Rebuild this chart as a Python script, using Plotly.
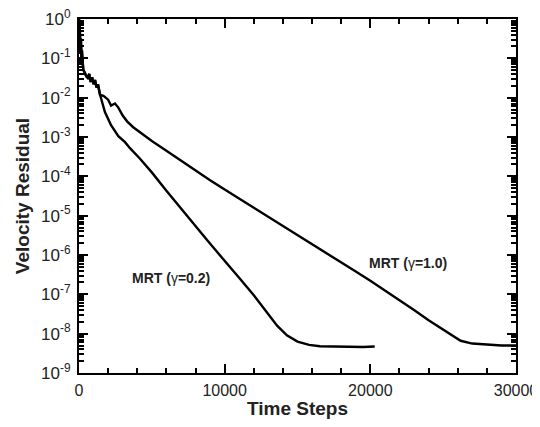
import plotly.graph_objects as go

# residual history, shared start-up transient
steps_start = [0, 60, 100, 130, 170, 200, 250, 300, 400, 500, 600, 700, 800,
               900, 1000, 1100, 1200, 1300, 1440]
res_start = [1.0, 0.5, 0.13, 0.32, 0.1, 0.16, 0.08, 0.05, 0.043, 0.035, 0.032,
             0.04, 0.025, 0.033, 0.022, 0.028, 0.018, 0.022, 0.012]

# MRT gamma = 0.2
steps_g02 = [1780, 2200, 2700, 3160, 3500, 4190, 5000, 6000, 7000, 8000, 8790,
             9500, 10300, 11050, 12000, 13000, 13600, 14270, 15000, 15800,
             16540, 17500, 18500, 19500, 20300]
res_g02 = [4.3e-3, 2.0e-3, 1.05e-3, 7.4e-4, 5.2e-4, 2.8e-4, 1.26e-4, 4.3e-5,
           1.5e-5, 5.4e-6, 2.4e-6, 1.17e-6, 5.4e-7, 2.5e-7, 9.5e-8, 3.2e-8,
           1.6e-8, 9.1e-9, 6.3e-9, 5.2e-9, 4.8e-9, 4.7e-9, 4.6e-9, 4.6e-9,
           4.7e-9]

# MRT gamma = 1.0
steps_g10 = [1700, 2000, 2200, 2470, 2700, 3000, 3300, 3700, 4200, 5000, 6000,
             7000, 8000, 9000, 10000, 11000, 12000, 13000, 14000, 15000, 16000,
             17000, 18000, 19000, 20000, 21000, 22000, 23000, 24000, 25000,
             25600, 26200, 27000, 28000, 29000, 30000]
res_g10 = [0.011, 8.9e-3, 6.3e-3, 7.1e-3, 5.6e-3, 3.5e-3, 2.5e-3, 1.8e-3,
           1.3e-3, 7.9e-4, 4.5e-4, 2.5e-4, 1.41e-4, 7.9e-5, 4.6e-5, 2.7e-5,
           1.6e-5, 9.5e-6, 5.6e-6, 3.3e-6, 1.95e-6, 1.15e-6, 6.6e-7, 3.8e-7,
           2.2e-7, 1.26e-7, 7.1e-8, 4.0e-8, 2.2e-8, 1.26e-8, 8.9e-9, 6.6e-9,
           5.6e-9, 5.2e-9, 5.0e-9, 5.0e-9]

y_tickvals = [1e0, 1e-1, 1e-2, 1e-3, 1e-4, 1e-5, 1e-6, 1e-7, 1e-8, 1e-9]
y_ticktext = ["10<sup>0</sup>", "10<sup>-1</sup>", "10<sup>-2</sup>",
              "10<sup>-3</sup>", "10<sup>-4</sup>", "10<sup>-5</sup>",
              "10<sup>-6</sup>", "10<sup>-7</sup>", "10<sup>-8</sup>",
              "10<sup>-9</sup>"]
x_tickvals = [0, 10000, 20000, 30000]
x_ticktext = ["0", "10000", "20000", "30000"]

FONT = "Liberation Sans, Arial, sans-serif"

fig = go.Figure()
fig.add_trace(go.Scatter(x=steps_start + steps_g02, y=res_start + res_g02,
                         mode="lines", line=dict(color="black", width=2.4),
                         name="MRT (γ=0.2)"))
fig.add_trace(go.Scatter(x=steps_start + steps_g10, y=res_start + res_g10,
                         mode="lines", line=dict(color="black", width=2.4),
                         name="MRT (γ=1.0)"))

fig.add_annotation(x=6300, y=-6.585, text="<b>MRT (</b>γ<b>=0.2)</b>",
                   showarrow=False, font=dict(family=FONT, size=14, color="#222"))
fig.add_annotation(x=22600, y=-6.2, text="<b>MRT (</b>γ<b>=1.0)</b>",
                   showarrow=False, font=dict(family=FONT, size=14, color="#222"))

# page body adds an 8px offset; keep the page from scrolling vertically
fig.update_layout(
    width=532, height=411,
    margin=dict(l=71, r=24, t=11, b=46),
    paper_bgcolor="white", plot_bgcolor="white",
    showlegend=False,
    font=dict(family=FONT, color="#222"),
    xaxis=dict(
        range=[0, 30000], tickvals=x_tickvals, ticktext=x_ticktext,
        ticks="inside", ticklen=9, tickwidth=2, tickcolor="black",
        minor=dict(dtick=2000, ticks="inside", ticklen=5, tickwidth=2,
                   tickcolor="black"),
        showline=True, linewidth=2, linecolor="black", mirror="allticks",
        showgrid=False, zeroline=False, automargin=False,
        ticklabeloverflow="allow",
        tickfont=dict(size=16), ticklabelstandoff=2,
        title=dict(text="<b>Time Steps</b>", font=dict(size=19), standoff=2),
    ),
    yaxis=dict(
        type="log", range=[-9, 0], tickvals=y_tickvals, ticktext=y_ticktext,
        ticks="inside", ticklen=9, tickwidth=2, tickcolor="black",
        minor=dict(dtick="D1", ticks="inside", ticklen=5, tickwidth=1.5,
                   tickcolor="black"),
        showline=True, linewidth=2, linecolor="black", mirror="allticks",
        showgrid=False, zeroline=False, automargin=False,
        ticklabeloverflow="allow",
        tickfont=dict(size=17), ticklabelstandoff=3,
        title=dict(text="<b>Velocity Residual</b>", font=dict(size=19), standoff=6),
    ),
)

fig.write_html("out.html")
